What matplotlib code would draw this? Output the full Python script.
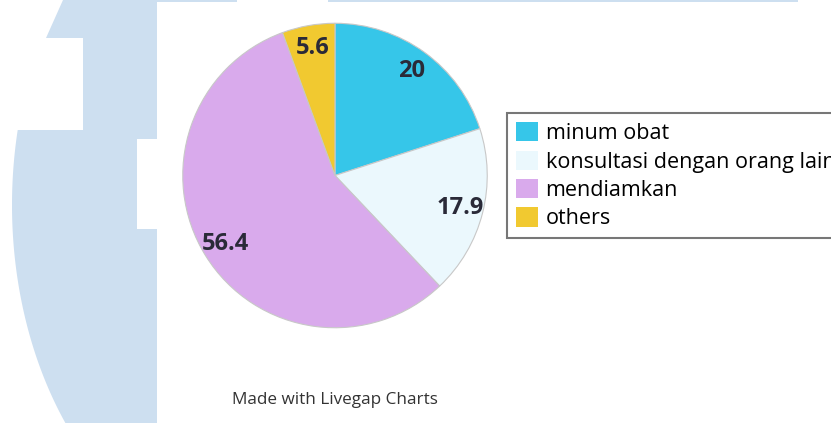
import matplotlib.pyplot as plt
from matplotlib.patches import Polygon, Rectangle
import numpy as np

kategori = ["minum obat", "konsultasi dengan orang lain", "mendiamkan", "others"]
persen = [20, 17.9, 56.4, 5.6]
warna = ["#36c6e9", "#ebf8fd", "#d9aaec", "#f1c930"]

W, H = 831, 423
fig = plt.figure(figsize=(W / 100, H / 100), dpi=100)

# latar belakang: bentuk logo biru muda di kiri
bg = fig.add_axes([0, 0, 1, 1], zorder=0)
bg.set_xlim(0, W)
bg.set_ylim(H, 0)
bg.axis("off")
biru = "#cddff0"
ys = np.linspace(423, 130, 60)
xs = 262 - 250 * np.sqrt(np.clip(1 - ((ys - 205) / 353) ** 2, 0, 1))
lengkung = list(zip(xs, ys))
bentuk = [(157, 0), (157, 423)] + lengkung + [(83, 130), (83, 38), (46, 38), (63, 0)]
bg.add_patch(Polygon(bentuk, closed=True, facecolor=biru, edgecolor="none"))
bg.add_patch(Rectangle((137, 139), 20, 90, facecolor="white", edgecolor="none"))
bg.add_patch(Rectangle((157, 0), 80, 2.5, facecolor=biru, edgecolor="none"))
bg.add_patch(Rectangle((328, 0), 470, 2.5, facecolor=biru, edgecolor="none"))
bg.text(335, 400, "Made with Livegap Charts", ha="center", va="center",
        fontsize=12.3, color="#333333", family="Open Sans")

# diagram lingkaran
r_px = 153
cx, cy = 335, 175.5
ax = fig.add_axes([(cx - r_px) / W, (H - cy - r_px) / H, 2 * r_px / W, 2 * r_px / H], zorder=1)
wedges, teks = ax.pie(
    persen,
    colors=warna,
    startangle=90,
    counterclock=False,
    labels=[str(p) for p in persen],
    labeldistance=0.85,
    wedgeprops=dict(edgecolor="#c8c8c8", linewidth=0.8),
    textprops=dict(fontsize=17, fontweight="bold", color="#2a2a38", family="Open Sans"),
)
for tx in teks:
    tx.set_ha("center")
    tx.set_va("center")
ax.set_xlim(-1.005, 1.005)
ax.set_ylim(-1.005, 1.005)

leg = fig.legend(
    wedges, kategori,
    loc="upper left",
    bbox_to_anchor=(507 / W, 1 - 113 / H),
    prop=dict(family="Open Sans", size=15.5),
    frameon=True,
    fancybox=False,
    edgecolor="#555555",
    handlelength=1.0,
    handleheight=1.0,
    handletextpad=0.37,
    labelspacing=0.3,
    borderpad=0.42,
    borderaxespad=0,
)
leg.get_frame().set_linewidth(1.5)
for h in leg.legend_handles:
    h.set_edgecolor("none")

fig.savefig("out.png", dpi=100)
